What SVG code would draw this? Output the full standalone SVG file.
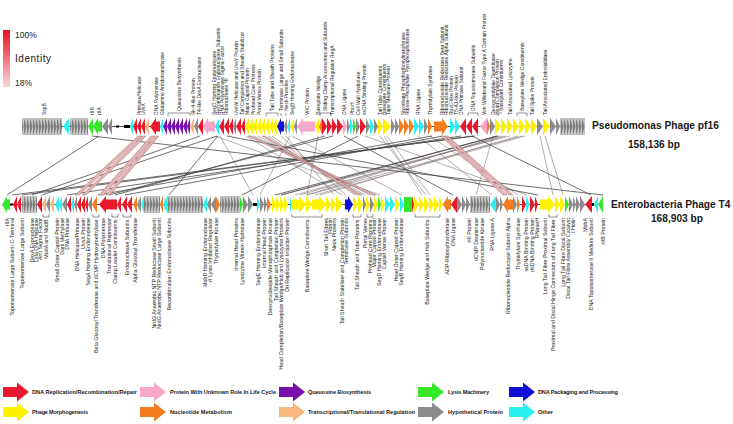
<svg xmlns="http://www.w3.org/2000/svg" width="733" height="424" viewBox="0 0 733 424">
<style>
text{font-family:"Liberation Sans",Arial,sans-serif;fill:#1a1a1a}
.tl{font-size:5px}
.bl{font-size:5.3px;text-anchor:end}
.lg{font-size:5.6px;font-weight:bold}
.ttl{font-size:10.2px;font-weight:bold}
.r{fill:#e8192c}.y{fill:#fff200}.o{fill:#f57c1f}.p{fill:#f7a8c8}.u{fill:#7a0fb0}.g{fill:#35e62a}.b{fill:#1010d8}.c{fill:#2beff0}.h{fill:#8c8c8c}.s{fill:#f9b67d}
.c1{stroke:#404040;stroke-width:.75;fill:none}
.c2{stroke:#857777;stroke-width:.6;fill:none}
.pk{fill:#e6b3b3;stroke:#8c5a5a;stroke-width:.4}
.br{stroke:#222;stroke-width:.5;fill:none}
.bb{stroke:#000;stroke-width:.7}
</style>
<defs>
<linearGradient id="gi" x1="0" y1="0" x2="0" y2="1"><stop offset="0" stop-color="#e8101f"/><stop offset="1" stop-color="#fbd6dc"/></linearGradient>
<pattern id="gt" patternUnits="userSpaceOnUse" x="0" y="118" width="3" height="17"><rect width="3" height="17" fill="#c4c4c4"/><path d="M0,0L2.6,8.5L0,17Z" fill="#7f7f7f"/></pattern>
<pattern id="gb" patternUnits="userSpaceOnUse" x="0" y="196" width="3" height="17"><rect width="3" height="17" fill="#c4c4c4"/><path d="M0,0L2.6,8.5L0,17Z" fill="#7f7f7f"/></pattern>
<path id="la" d="M0,-5H14V-9.5L26,0L14,9.5V5H0Z"/>
</defs>
<rect width="733" height="424" fill="#fff"/>

<g id="identity-scale">
<rect x="3" y="30" width="7" height="57" fill="url(#gi)"/>
<text x="15" y="38" style="font-size:8.5px">100%</text>
<text x="15" y="62" style="font-size:10px" textLength="36">Identity</text>
<text x="15" y="86" style="font-size:8.5px">18%</text>
</g>

<g id="connectors">
<path class="c2" d="M215,136L380,195M220,136L253,195M246,136L342,195M250,136L374,195M254,136L370,195M258,136L365,195M268,136L355,195M272,136L357,195M281,136L346,195M286,136L334,195M292,136L402,195M290,136L260,195M318,136L307,195M365,136L527,195M380,136L426,195M384,136L422,195M387,136L430,195M418,136L492,195M430,136L518,195M493,136L476,195M500,136L307,195M503,136L300,195M506,136L295,195M510,136L281,195M518,136L320,195M522,136L307,195M525,136L315,195M540,136L553,195M545,136L563,195"/>
<path class="c1" d="M92,136L603,195M99,136L7,195M200,136L32,195M217,136L42,195M218,136L169,195M227,136L538,195M325,136L115,195M333,136L109,195M432,136L98,195M443,136L125,195M461,136L67,195M473,136L22,195M475,136L12,195M472,136L591,195M498,136L275,195M497,136L281,195M344,136L453,195M358,136L242,195"/>
<path class="pk" d="M138,136L142,136L79,195L75,195ZM143,136L146,136L86,195L82,195ZM151,136L155,136L104,195L99,195ZM156,136L159,136L110,195L106,195ZM441,136L444,136L507,195L503,195ZM445,136L448,136L513,195L509,195ZM248,136L251,136L376,195L372,195ZM262,136L265,136L362,195L358,195Z"/>
</g>

<g id="track-pf16">
<path class="bb" d="M22,126.5H585"/>
<rect x="22" y="118" width="40" height="17" fill="url(#gt)"/>
<rect x="70" y="118" width="18" height="17" fill="url(#gt)"/>
<rect x="560" y="118" width="25" height="17" fill="url(#gt)"/>
<rect x="116" y="125.5" width="3" height="2" fill="#000"/>
<rect x="124" y="125" width="6" height="3" fill="#000"/>
<path class="c" d="M69,118l-6,8.5l6,8.5zM133,118l-3,8.5l3,8.5zM163,118l-3,8.5l3,8.5zM219,118l-4,8.5l4,8.5zM290,118l-3,8.5l3,8.5zM350,118l3,8.5l-3,8.5zM370,118l4,8.5l-4,8.5zM414,118l5,8.5l-5,8.5zM419,118l5,8.5l-5,8.5zM450,118l5,8.5l-5,8.5zM455,118l5,8.5l-5,8.5z"/>
<path class="g" d="M93,118l-5,8.5l5,8.5zM102,121.5h-4v-3.5l-5,8.5l5,8.5v-3.5h4zM353,118l3,8.5l-3,8.5z"/>
<path class="h" d="M108,118l-6,8.5l6,8.5zM112,118l-4,8.5l4,8.5zM198,118l-4,8.5l4,8.5zM236,118l-3,8.5l3,8.5zM287,118l-3,8.5l3,8.5zM297,118l-3,8.5l3,8.5zM347,118l3,8.5l-3,8.5zM356,118l4,8.5l-4,8.5zM366,118l4,8.5l-4,8.5zM374,118l4,8.5l-4,8.5zM391,118l4,8.5l-4,8.5zM395,118l4,8.5l-4,8.5zM424,118l4,8.5l-4,8.5zM490,118l5,8.5l-5,8.5zM537,118l6,8.5l-6,8.5zM550,118l6,8.5l-6,8.5zM556,118l4,8.5l-4,8.5z"/>
<path class="r" d="M137,118l-4,8.5l4,8.5zM141,118l-4,8.5l4,8.5zM145,118l-4,8.5l4,8.5zM160,121.5h-4v-3.5l-6,8.5l6,8.5v-3.5h4zM203,118l-5,8.5l5,8.5zM224,118l-5,8.5l5,8.5zM229,118l-5,8.5l5,8.5zM233,118l-4,8.5l4,8.5zM241,118l-5,8.5l5,8.5zM245,118l-4,8.5l4,8.5zM322,118l5,8.5l-5,8.5zM327,118l5,8.5l-5,8.5zM332,118l5,8.5l-5,8.5zM337,118l6,8.5l-6,8.5zM360,118l6,8.5l-6,8.5zM466,118l-6,8.5l6,8.5zM472,118l-6,8.5l6,8.5zM478,118l-6,8.5l6,8.5z"/>
<path class="s" d="M149,118l-4,8.5l4,8.5zM194,118l-4,8.5l4,8.5z"/>
<path class="u" d="M167,118l-4,8.5l4,8.5zM171,118l-4,8.5l4,8.5zM175,118l-4,8.5l4,8.5zM179,118l-4,8.5l4,8.5zM183,118l-4,8.5l4,8.5zM187,118l-4,8.5l4,8.5zM190,118l-3,8.5l3,8.5z"/>
<path class="p" d="M215,121.5h-7v-3.5l-5,8.5l5,8.5v-3.5h7zM315,121.5h-12v-3.5l-6,8.5l6,8.5v-3.5h12zM343,118l4,8.5l-4,8.5zM487,118l-7,8.5l7,8.5z"/>
<path class="y" d="M249,118l-4,8.5l4,8.5zM253,118l-4,8.5l4,8.5zM257,118l-4,8.5l4,8.5zM261,118l-4,8.5l4,8.5zM265,118l-4,8.5l4,8.5zM269,118l-4,8.5l4,8.5zM273,118l-4,8.5l4,8.5zM277,118l-4,8.5l4,8.5zM294,118l-4,8.5l4,8.5zM319,118l-4,8.5l4,8.5zM378,118l5,8.5l-5,8.5zM383,118l8,8.5l-8,8.5zM495,118l6,8.5l-6,8.5zM501,118l6,8.5l-6,8.5zM507,118l6,8.5l-6,8.5zM513,118l6,8.5l-6,8.5zM519,118l6,8.5l-6,8.5zM525,118l6,8.5l-6,8.5zM531,118l6,8.5l-6,8.5zM543,118l7,8.5l-7,8.5z"/>
<path class="b" d="M284,121.5h-3v-3.5l-4,8.5l4,8.5v-3.5h3z"/>
<path class="o" d="M322,118l-3,8.5l3,8.5zM399,118l5,8.5l-5,8.5zM404,118l5,8.5l-5,8.5zM409,118l5,8.5l-5,8.5zM428,118l4,8.5l-4,8.5zM434,121.5h8v-3.5l6,8.5l-6,8.5v-3.5h-8zM487,118l3,8.5l-3,8.5z"/>
</g>

<g id="track-t4">
<path class="bb" d="M2,204.5H603"/>
<rect x="22" y="196" width="15" height="17" fill="url(#gb)"/>
<rect x="144" y="196" width="16" height="17" fill="url(#gb)"/>
<rect x="167" y="196" width="36" height="17" fill="url(#gb)"/>
<rect x="220" y="196" width="20" height="17" fill="url(#gb)"/>
<rect x="470" y="196" width="20" height="17" fill="url(#gb)"/>
<rect x="10" y="203.5" width="3" height="2" fill="#000"/>
<rect x="253" y="203" width="4" height="3" fill="#000"/>
<rect x="592" y="203" width="2" height="3" fill="#000"/>
<path class="g" d="M10,199.5h-3v-3.5l-5,8.5l5,8.5v-3.5h3zM240,196l3,8.5l-3,8.5zM378,196l3,8.5l-3,8.5zM404,197h8v15h-8zM565,196l4,8.5l-4,8.5zM603,196l-5,8.5l5,8.5z"/>
<path class="r" d="M17,196l-4,8.5l4,8.5zM21,196l-4,8.5l4,8.5zM42,196l-5,8.5l5,8.5zM71,196l-4,8.5l4,8.5zM81,196l-4,8.5l4,8.5zM85,196l-4,8.5l4,8.5zM88,196l-3,8.5l3,8.5zM117,199.5h-11v-3.5l-7,8.5l7,8.5v-3.5h11zM121,196l-4,8.5l4,8.5zM127,196l-5,8.5l5,8.5zM132,196l-5,8.5l5,8.5zM412,196l2,8.5l-2,8.5zM457,196l-6,8.5l6,8.5zM522,196l4,8.5l-4,8.5zM530,196l5,8.5l-5,8.5zM535,196l3,8.5l-3,8.5zM592,196l-7,8.5l7,8.5z"/>
<path class="s" d="M46,196l-4,8.5l4,8.5zM54,196l-4,8.5l4,8.5z"/>
<path class="c" d="M59,196l-4,8.5l4,8.5zM62,196l-3,8.5l3,8.5zM74,196l-3,8.5l3,8.5zM144,196l-3,8.5l3,8.5zM167,196l-4,8.5l4,8.5zM207,196l-4,8.5l4,8.5zM257,196l3,8.5l-3,8.5zM290,196l2,8.5l-2,8.5zM385,196l5,8.5l-5,8.5zM390,196l5,8.5l-5,8.5zM400,196l4,8.5l-4,8.5zM496,196l-6,8.5l6,8.5zM526,196l4,8.5l-4,8.5zM598,196l-4,8.5l4,8.5z"/>
<path class="o" d="M97,196l-5,8.5l5,8.5zM137,196l-4,8.5l4,8.5zM163,196l-3,8.5l3,8.5zM216,196l4,8.5l-4,8.5zM267,196l4,8.5l-4,8.5zM451,199.5h-3v-3.5l-5,8.5l5,8.5v-3.5h3zM513,199.5h-5v-3.5l-5,8.5l5,8.5v-3.5h5zM517,196l3,8.5l-3,8.5z"/>
<path class="y" d="M272,196l4,8.5l-4,8.5zM276,196l4,8.5l-4,8.5zM280,196l4,8.5l-4,8.5zM284,196l4,8.5l-4,8.5zM292,199.5h7v-3.5l7,8.5l-7,8.5v-3.5h-7zM306,196l6,8.5l-6,8.5zM312,199.5h7v-3.5l7,8.5l-7,8.5v-3.5h-7zM326,196l5,8.5l-5,8.5zM331,196l5,8.5l-5,8.5zM336,196l7,8.5l-7,8.5zM353,196l5,8.5l-5,8.5zM358,196l5,8.5l-5,8.5zM366,196l4,8.5l-4,8.5zM374,196l4,8.5l-4,8.5zM381,196l4,8.5l-4,8.5zM395,196l5,8.5l-5,8.5zM414,196l5,8.5l-5,8.5zM419,196l5,8.5l-5,8.5zM424,196l5,8.5l-5,8.5zM429,196l5,8.5l-5,8.5zM434,196l5,8.5l-5,8.5zM439,196l4,8.5l-4,8.5zM540,199.5h8v-3.5l7,8.5l-7,8.5v-3.5h-8zM555,196l5,8.5l-5,8.5zM560,196l5,8.5l-5,8.5z"/>
<path class="b" d="M345,199.5h3v-3.5l5,8.5l-5,8.5v-3.5h-3z"/>
<path class="h" d="M50,196l-4,8.5l4,8.5zM67,196l-5,8.5l5,8.5zM77,196l-3,8.5l3,8.5zM92,196l-4,8.5l4,8.5zM141,196l-4,8.5l4,8.5zM211,196l-4,8.5l4,8.5zM216,196l-5,8.5l5,8.5zM243,196l5,8.5l-5,8.5zM248,196l5,8.5l-5,8.5zM260,196l4,8.5l-4,8.5zM264,196l3,8.5l-3,8.5zM363,196l3,8.5l-3,8.5zM370,196l4,8.5l-4,8.5zM457,196l5,8.5l-5,8.5zM462,196l4,8.5l-4,8.5zM466,196l4,8.5l-4,8.5zM496,196l4,8.5l-4,8.5zM500,196l3,8.5l-3,8.5zM513,196l4,8.5l-4,8.5zM569,196l4,8.5l-4,8.5zM573,196l3,8.5l-3,8.5zM576,196l4,8.5l-4,8.5zM580,196l5,8.5l-5,8.5z"/>
</g>

<g id="labels-pf16">
<path class="br" d="M168,116v-3h22v3M266,116v-3h12v3M281,116v-3M286,116v-3M320,116v-3h11v3M468,116v-3h10v3M498,116v-3h4M517,116v-3h10v3"/>
<text class="tl" transform="translate(45.8,115)rotate(-90)">SspB</text>
<text class="tl" transform="translate(93.8,115)rotate(-90)">rIIB</text>
<text class="tl" transform="translate(100.8,115)rotate(-90)">rIIA</text>
<text class="tl" transform="translate(140.8,115)rotate(-90)">Primase/Helicase</text>
<text class="tl" transform="translate(144.8,115)rotate(-90)">UvsX</text>
<text class="tl" transform="translate(157.8,115)rotate(-90)">DNA Polymerase</text>
<text class="tl" transform="translate(163.8,115)rotate(-90)">Glutamine Amidotransferase</text>
<text class="tl" transform="translate(180.8,111)rotate(-90)">Queuosine Biosynthesis</text>
<text class="tl" transform="translate(194.8,115)rotate(-90)">Sk-4-like Protein</text>
<text class="tl" transform="translate(200.8,115)rotate(-90)">T4-like DexA Exonuclease</text>
<text class="tl" transform="translate(215.8,115)rotate(-90)">SegD Homing Endonuclease</text>
<text class="tl" transform="translate(219.8,115)rotate(-90)">Recombination Endonuclease Subunits</text>
<text class="tl" transform="translate(223.8,115)rotate(-90)">RNA Polymerase Sigma Factor</text>
<text class="tl" transform="translate(227.8,115)rotate(-90)">Ribonuclease HI</text>
<text class="tl" transform="translate(237.8,115)rotate(-90)">UvsW Helicase and UvsY Protein</text>
<text class="tl" transform="translate(243.8,115)rotate(-90)">Tail Completion and Sheath Stabilizer</text>
<text class="tl" transform="translate(248.8,115)rotate(-90)">Major Capsid Protein</text>
<text class="tl" transform="translate(254.8,115)rotate(-90)">Prohead Core Proteins</text>
<text class="tl" transform="translate(260.8,115)rotate(-90)">Portal Vertex Protein</text>
<text class="tl" transform="translate(273.8,111)rotate(-90)">Tail Tube and Sheath Proteins</text>
<text class="tl" transform="translate(282.8,111)rotate(-90)">Terminase Large and Small Subunits</text>
<text class="tl" transform="translate(287.8,111)rotate(-90)">Neck Proteins</text>
<text class="tl" transform="translate(293.8,115)rotate(-90)">SegB Homing Endonuclease</text>
<text class="tl" transform="translate(308.8,115)rotate(-90)">VrlC Protein</text>
<text class="tl" transform="translate(319.8,115)rotate(-90)">Baseplate Wedge</text>
<text class="tl" transform="translate(326.8,111)rotate(-90)">Sliding Clamp Accessories and Subunits</text>
<text class="tl" transform="translate(333.8,115)rotate(-90)">Transcriptional Regulator RegA</text>
<text class="tl" transform="translate(345.8,115)rotate(-90)">DNA Ligase</text>
<text class="tl" transform="translate(353.8,115)rotate(-90)">PhoH</text>
<text class="tl" transform="translate(359.8,115)rotate(-90)">Cell Wall Hydrolase</text>
<text class="tl" transform="translate(365.8,115)rotate(-90)">ssDNA Binding Protein</text>
<text class="tl" transform="translate(381.8,115)rotate(-90)">Tail Tube Constituents</text>
<text class="tl" transform="translate(385.8,115)rotate(-90)">Baseplate Constituents</text>
<text class="tl" transform="translate(389.8,115)rotate(-90)">Tape Measure Protein</text>
<text class="tl" transform="translate(404.8,115)rotate(-90)">Nicotinate Phosphoribosyltransferase</text>
<text class="tl" transform="translate(408.8,115)rotate(-90)">Ribose-Phosphate Pyrophosphokinase</text>
<text class="tl" transform="translate(419.8,115)rotate(-90)">RNA Ligase</text>
<text class="tl" transform="translate(431.8,115)rotate(-90)">Thymidylate Synthase</text>
<text class="tl" transform="translate(443.8,115)rotate(-90)">Ribonucleotide Reductase Beta Subunit</text>
<text class="tl" transform="translate(447.8,115)rotate(-90)">Ribonucleotide Reductase Alpha Subunit</text>
<text class="tl" transform="translate(452.8,115)rotate(-90)">RuvC-like Protein</text>
<text class="tl" transform="translate(457.8,115)rotate(-90)">T5-A1-like Protein</text>
<text class="tl" transform="translate(462.8,115)rotate(-90)">DNA Primase Subunit</text>
<text class="tl" transform="translate(474.8,111)rotate(-90)">DNA Topoisomerase Subunits</text>
<text class="tl" transform="translate(485.8,115)rotate(-90)">Von Willebrand Factor Type A Domain Protein</text>
<text class="tl" transform="translate(494.8,115)rotate(-90)">Deoxycytidylate Deaminase</text>
<text class="tl" transform="translate(498.8,115)rotate(-90)">Head Completion Protein</text>
<text class="tl" transform="translate(502.8,111)rotate(-90)">Baseplate Constituents</text>
<text class="tl" transform="translate(511.8,115)rotate(-90)">Tail Associated Lysozyme</text>
<text class="tl" transform="translate(523.8,111)rotate(-90)">Baseplate Wedge Constituents</text>
<text class="tl" transform="translate(533.8,115)rotate(-90)">Tail Spike Protein</text>
<text class="tl" transform="translate(546.8,115)rotate(-90)">Tail Associated Endosialidase</text>
</g>

<g id="labels-t4">
<path class="br" d="M43,214v3h6v-3M93,214v3h6v-3M112,214v3h6v-3M123,214v3h8v-3M292,214v3h30v-3M353,214v3h8v-3M367,214v3h6v-3M415,214v3h25v-3M549,214v3h8v-3"/>
<text class="bl" transform="translate(8.9,218)rotate(-90)">rIIA</text>
<text class="bl" transform="translate(13.9,218)rotate(-90)">Topoisomerase Large Subunit C-Terminal</text>
<text class="bl" transform="translate(23.9,218)rotate(-90)">Topoisomerase Large Subunit</text>
<text class="bl" transform="translate(33.9,218)rotate(-90)">DexA Exonuclease</text>
<text class="bl" transform="translate(37.9,218)rotate(-90)">Dda DNA Helicase</text>
<text class="bl" transform="translate(41.9,218)rotate(-90)">Anti Sigma Factor</text>
<text class="bl" transform="translate(47.9,219.5)rotate(-90)">ModA and ModB</text>
<text class="bl" transform="translate(58.9,218)rotate(-90)">Small Outer Capsid Protein</text>
<text class="bl" transform="translate(63.9,218)rotate(-90)">Dam Methylase</text>
<text class="bl" transform="translate(68.9,218)rotate(-90)">DNA Primase</text>
<text class="bl" transform="translate(78.9,218)rotate(-90)">DNA Helicase/Primase</text>
<text class="bl" transform="translate(84.9,218)rotate(-90)">UvsX Protein</text>
<text class="bl" transform="translate(89.9,218)rotate(-90)">SegA Homing Endonuclease</text>
<text class="bl" transform="translate(97.9,219.5)rotate(-90)">Beta Glucosyl Transferase and dCMP Hydroxymethylase</text>
<text class="bl" transform="translate(104.9,218)rotate(-90)">DNA Polymerase</text>
<text class="bl" transform="translate(110.9,218)rotate(-90)">Translational Repressor</text>
<text class="bl" transform="translate(116.9,219.5)rotate(-90)">Clamp Loader Constituents</text>
<text class="bl" transform="translate(128.9,219.5)rotate(-90)">Endonuclease Subunits</text>
<text class="bl" transform="translate(136.9,218)rotate(-90)">Alpha Glucosyl Transferase</text>
<text class="bl" transform="translate(155.9,218)rotate(-90)">NrdG Anaerobic NTP Reductase Small Subunit</text>
<text class="bl" transform="translate(160.9,218)rotate(-90)">NrdG Anaerobic NTP Reductase Large Subunit</text>
<text class="bl" transform="translate(170.9,218)rotate(-90)">Recombination Endonuclease Subunits</text>
<text class="bl" transform="translate(206.9,218)rotate(-90)">MobD Homing Endonuclease</text>
<text class="bl" transform="translate(211.9,218)rotate(-90)">rI Lysis Inhibition Regulator</text>
<text class="bl" transform="translate(217.9,218)rotate(-90)">Thymidylate Kinase</text>
<text class="bl" transform="translate(237.9,218)rotate(-90)">Internal Head Proteins</text>
<text class="bl" transform="translate(243.9,218)rotate(-90)">Lysozyme Murein Hydrolase</text>
<text class="bl" transform="translate(259.9,218)rotate(-90)">SegE Homing Endonuclease</text>
<text class="bl" transform="translate(265.9,218)rotate(-90)">Internal Head Protein</text>
<text class="bl" transform="translate(271.9,218)rotate(-90)">Deoxynucleoside Monophosphate Kinase</text>
<text class="bl" transform="translate(277.9,218)rotate(-90)">Tail Sheath and Completion Protein</text>
<text class="bl" transform="translate(282.9,218)rotate(-90)">Head Completion/Baseplate Wedge/Hub and Lysozyme Proteins</text>
<text class="bl" transform="translate(288.9,218)rotate(-90)">Ori Replication Initiation Protein</text>
<text class="bl" transform="translate(308.9,219.5)rotate(-90)">Baseplate Wedge Constituents</text>
<text class="bl" transform="translate(327.9,218)rotate(-90)">Short Tail Fibres</text>
<text class="bl" transform="translate(331.9,218)rotate(-90)">Fibritin</text>
<text class="bl" transform="translate(335.9,218)rotate(-90)">Neck Proteins</text>
<text class="bl" transform="translate(343.9,218)rotate(-90)">Tail Sheath Stabiliser and Completion Protein</text>
<text class="bl" transform="translate(347.9,218)rotate(-90)">Terminase Subunits</text>
<text class="bl" transform="translate(358.9,219.5)rotate(-90)">Tail Sheath and Tube Proteins</text>
<text class="bl" transform="translate(366.9,218)rotate(-90)">Portal Vertex</text>
<text class="bl" transform="translate(371.9,219.5)rotate(-90)">Prohead Core Proteins</text>
<text class="bl" transform="translate(375.9,218)rotate(-90)">Major Capsid Protein</text>
<text class="bl" transform="translate(380.9,218)rotate(-90)">SegD Homing Endonuclease</text>
<text class="bl" transform="translate(385.9,218)rotate(-90)">Capsid Vertex Protein</text>
<text class="bl" transform="translate(397.9,218)rotate(-90)">Head Outer Capsid Protein</text>
<text class="bl" transform="translate(402.9,218)rotate(-90)">SegB Homing Endonuclease</text>
<text class="bl" transform="translate(428.9,219.5)rotate(-90)">Baseplate Wedge and Hub Subunits</text>
<text class="bl" transform="translate(448.9,218)rotate(-90)">ADP-Ribosyltransferase</text>
<text class="bl" transform="translate(454.9,218)rotate(-90)">DNA Ligase</text>
<text class="bl" transform="translate(470.9,218)rotate(-90)">rIII Protein</text>
<text class="bl" transform="translate(477.9,218)rotate(-90)">dCMP Deaminase</text>
<text class="bl" transform="translate(483.9,218)rotate(-90)">Polynucleotide Kinase</text>
<text class="bl" transform="translate(493.9,218)rotate(-90)">RNA Ligase A</text>
<text class="bl" transform="translate(509.9,218)rotate(-90)">Ribonucleotide Reductase Subunit Alpha</text>
<text class="bl" transform="translate(519.9,218)rotate(-90)">Thymidylate Synthase</text>
<text class="bl" transform="translate(527.9,218)rotate(-90)">ssDNA Binding Protein</text>
<text class="bl" transform="translate(533.9,218)rotate(-90)">dsDNA Binding Protein</text>
<text class="bl" transform="translate(538.9,218)rotate(-90)">RNaseH</text>
<text class="bl" transform="translate(546.9,218)rotate(-90)">Long Tail Fibre Proximal Subunit</text>
<text class="bl" transform="translate(554.9,219.5)rotate(-90)">Proximal and Distal Hinge Connectors of Long Tail Fibre</text>
<text class="bl" transform="translate(564.9,218)rotate(-90)">Long Tail Fibre Distal Subunit</text>
<text class="bl" transform="translate(569.9,218)rotate(-90)">Distal Tail Fibre Assembly Catalyst</text>
<text class="bl" transform="translate(574.9,218)rotate(-90)">t Holin</text>
<text class="bl" transform="translate(586.9,218)rotate(-90)">MobA</text>
<text class="bl" transform="translate(592.9,218)rotate(-90)">DNA Topoisomerase II Medium Subunit</text>
<text class="bl" transform="translate(604.9,218)rotate(-90)">rIIB Protein</text>
</g>

<g id="title-pf16">
<text class="ttl" x="592" y="129">Pseudomonas Phage pf16</text>
<text class="ttl" x="654" y="148" text-anchor="middle">158,136 bp</text>
</g>
<g id="title-t4">
<text class="ttl" x="611" y="208">Enterobacteria Phage T4</text>
<text class="ttl" x="677" y="222" text-anchor="middle">168,903 bp</text>
</g>

<g id="legend">
<g id="lg-dna"><use href="#la" x="3" y="392" class="r"/><text class="lg" x="32" y="394" textLength="105">DNA Replication/Recombination/Repair</text></g>
<g id="lg-unknown"><use href="#la" x="140" y="392" class="p"/><text class="lg" x="170" y="394" textLength="106">Protein With Unknown Role In Life Cycle</text></g>
<g id="lg-queuosine"><use href="#la" x="279" y="392" class="u"/><text class="lg" x="308" y="394" textLength="63">Queuosine Biosynthesis</text></g>
<g id="lg-lysis"><use href="#la" x="418" y="392" class="g"/><text class="lg" x="448" y="394" textLength="41">Lysis Machinery</text></g>
<g id="lg-packaging"><use href="#la" x="509" y="392" class="b"/><text class="lg" x="538" y="394" textLength="80">DNA Packaging and Processing</text></g>
<g id="lg-morph"><use href="#la" x="3" y="412" class="y"/><text class="lg" x="32" y="414" textLength="56">Phage Morphogenesis</text></g>
<g id="lg-nucleotide"><use href="#la" x="140" y="412" class="o"/><text class="lg" x="170" y="414" textLength="62">Nucleotide Metabolism</text></g>
<g id="lg-regulation"><use href="#la" x="279" y="412" class="s"/><text class="lg" x="308" y="414" textLength="107">Transcriptional/Translational Regulation</text></g>
<g id="lg-hypothetical"><use href="#la" x="418" y="412" class="h"/><text class="lg" x="448" y="414" textLength="55">Hypothetical Protein</text></g>
<g id="lg-other"><use href="#la" x="509" y="412" class="c"/><text class="lg" x="538" y="414" textLength="15">Other</text></g>
</g>
</svg>
